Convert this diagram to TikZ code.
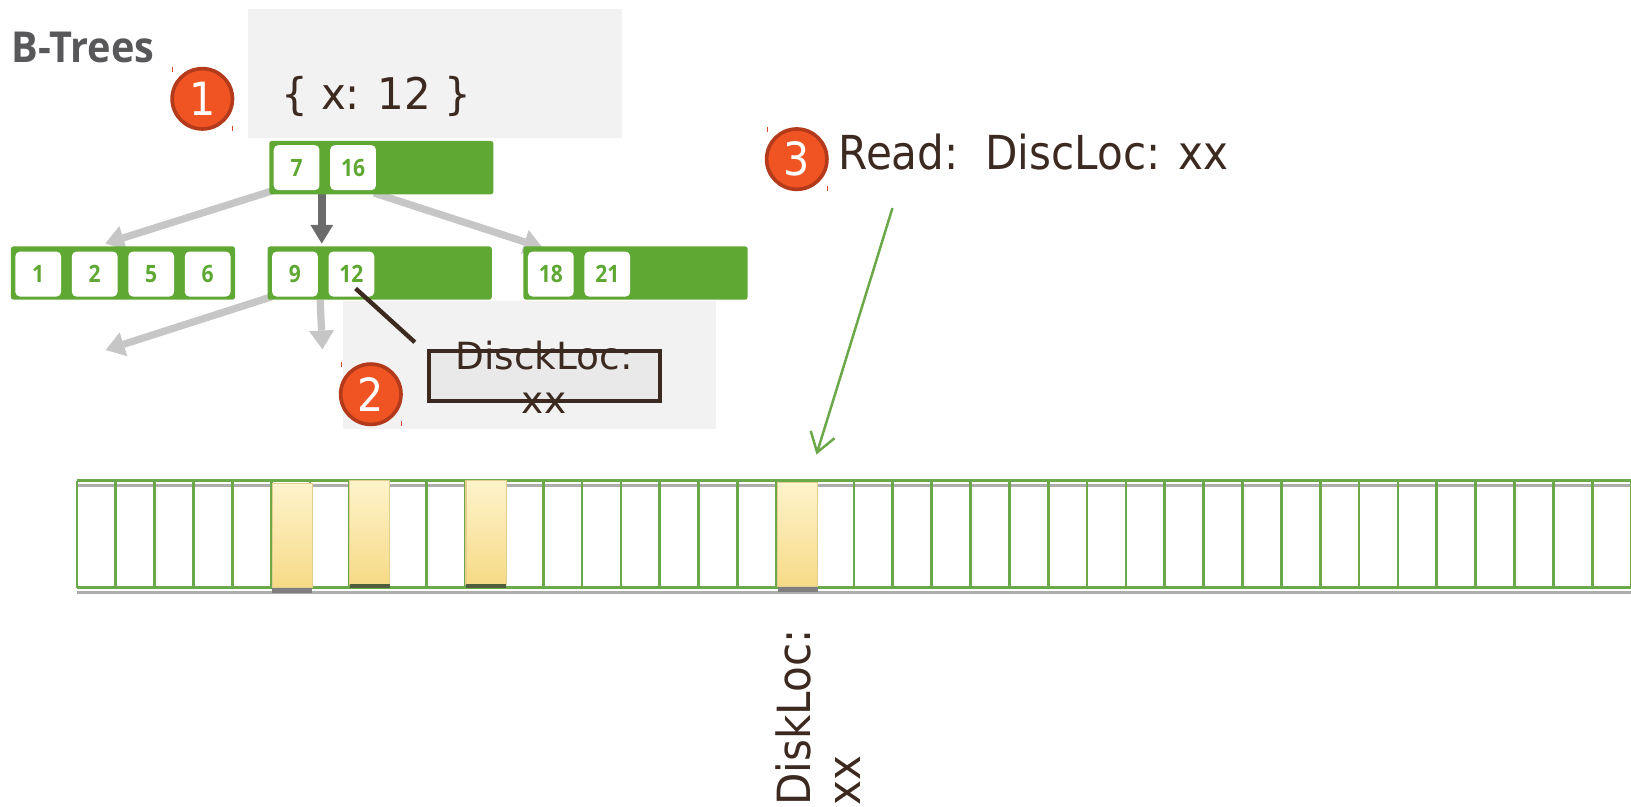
\documentclass[tikz,border=0pt]{standalone}
\usepackage{fontspec}
\usetikzlibrary{arrows.meta,calc}
\setmainfont{DejaVu Sans}
\newfontfamily\titlefam[FakeStretch=0.93]{Open Sans}
\newfontfamily\keyfam[FakeStretch=0.88]{Open Sans}
\newfontfamily\readfam[FakeStretch=0.90]{DejaVu Sans}
\newfontfamily\queryfam[FakeStretch=0.96]{DejaVu Sans}
\newfontfamily\vertfam[FakeStretch=0.92]{DejaVu Sans}
\newfontfamily\badgefam[FakeStretch=0.90]{DejaVu Sans}

\definecolor{bargreen}{HTML}{5FA833}
\definecolor{arrowlight}{HTML}{C6C6C6}
\definecolor{arrowdark}{HTML}{6B6B6B}
\definecolor{panelgray}{HTML}{F2F2F2}
\definecolor{inkbrown}{HTML}{3C2A21}
\definecolor{badgefill}{HTML}{F05423}
\definecolor{badgering}{HTML}{B43A1C}
\definecolor{tickred}{HTML}{D9452A}
\definecolor{diskgreen}{HTML}{6BA84A}
\definecolor{diskgray}{HTML}{ADADAD}
\definecolor{titlegray}{HTML}{58585A}
\definecolor{hcelltop}{HTML}{FEF3CB}
\definecolor{hcellbot}{HTML}{F6DA86}
\definecolor{hcelledge}{HTML}{E2CF8E}
\definecolor{footgray}{HTML}{7F7F7F}
\definecolor{footdark}{HTML}{4F5C3E}
\definecolor{dboxfill}{HTML}{E9E9E9}

\pgfdeclarelayer{bg}
\pgfsetlayers{bg,main}

\begin{document}
\begin{tikzpicture}[x=1pt,y=-1pt,
  bar/.style={fill=bargreen, rounded corners=2.5pt, minimum width=215.5pt,
    minimum height=51.3pt, inner sep=0pt},
  key/.style={fill=white, rounded corners=4.5pt, minimum width=44pt,
    minimum height=43.3pt, inner sep=0pt, text=bargreen,
    font=\keyfam\bfseries\fontsize{23}{23}\selectfont},
  panel/.style={fill=panelgray, inner sep=0pt},
  txt/.style={inner sep=0pt, text=inkbrown},
  badge/.style={circle, fill=badgefill, draw=badgering, line width=3.5pt,
    minimum size=58pt, inner sep=0pt, text=white,
    font=\badgefam\fontsize{44}{44}\selectfont},
  tick/.style={draw=tickred, line width=0.8pt},
  lightarrow/.style={draw=arrowlight, line width=7pt,
    -{Triangle[length=18pt,width=24pt,line width=0pt]}},
  darkarrow/.style={draw=arrowdark, line width=7.5pt,
    -{Triangle[length=18pt,width=22pt,line width=0pt]}},
  pointer/.style={draw=inkbrown, line width=4.2pt},
  readarrow/.style={draw=diskgreen, line width=2.4pt,
    -{Straight Barb[length=18pt,width=24pt]}},
  cellline/.style={draw=diskgreen, line width=2.6pt},
  shadeline/.style={draw=diskgray, line width=3pt},
  hcell/.style={top color=hcelltop, bottom color=hcellbot, draw=hcelledge, line width=1pt},
]
\useasboundingbox (0,0) rectangle (1568,775);

% title
\node[anchor=base west, inner sep=0pt, text=titlegray,
  font=\titlefam\bfseries\fontsize{41}{41}\selectfont] (title) at (11,60) {B-Trees};

% query panel and record panel
\begin{pgfonlayer}{bg}
  \node[panel, minimum width=359pt, minimum height=123.4pt] (qbox) at (418.1,70.7) {};
  \node[panel, minimum width=358.8pt, minimum height=123.5pt] (locbox) at (509.4,350.8) {};
\end{pgfonlayer}
\node[txt, anchor=base west, font=\queryfam\fontsize{42}{42}\selectfont] (qtext) at (270,105) {\{ x: 12 \}};

% root node
\node[bar] (root) at (366.6,161.2) {};
\node[key] (k7)  at ($(root.west)+(26.5,0)$) {7};
\node[key] (k16) at ($(k7)+(54.3,0)$) {16};

% second level
\node[bar] (lb) at (118.2,262.5) {};
\node[key] (k1) at ($(lb.west)+(26.5,1)$) {1};
\node[key] (k2) at ($(k1)+(54.3,0)$) {2};
\node[key] (k5) at ($(k2)+(54.3,0)$) {5};
\node[key] (k6) at ($(k5)+(54.3,0)$) {6};

\node[bar] (mb) at (365,262.5) {};
\node[key] (k9)  at ($(mb.west)+(26.5,1)$) {9};
\node[key] (k12) at ($(k9)+(54.3,0)$) {12};

\node[bar] (rb) at (611,262.5) {};
\node[key] (k18) at ($(rb.west)+(26.5,1)$) {18};
\node[key] (k21) at ($(k18)+(54.3,0)$) {21};

% child pointers
\coordinate (mbleft) at (101.6,336.5);
\coordinate (mbdown) at (310,335.8);
\begin{pgfonlayer}{bg}
  \draw[lightarrow] ($(root.south west)+(3,-3.5)$) -- ($(lb.north)+(-17,-2.5)$);
  \draw[lightarrow] ($(k16.south east)+(-2,2.5)$) -- ($(rb.north west)+(18.6,1.5)$);
  \draw[darkarrow] ($(k7.south east)+(2,0)$) -- ($(k7.south east |- mb.north)+(2,-2.5)$);
  \draw[lightarrow] ($(mb.south west)+(4,-3)$) -- (mbleft);
  \draw[lightarrow] ($(k9.south east |- mb.south)+(2,0)$) -- (mbdown);
\end{pgfonlayer}

% record location box
\node[draw=inkbrown, fill=dboxfill, line width=4.1pt, minimum width=221.9pt,
  minimum height=47.9pt, inner sep=0pt] (dbox) at (523.2,361.5) {};
\draw[pointer] ($(k12.south)+(4,-8)$) -- ($(dbox.north west)+(-11.4,-6.5)$);
\node[txt, anchor=base, align=center, font=\fontsize{36}{41.7}\selectfont] (dtext)
  at (523,397.4) {DisckLoc:\\xx};

% read step
\node[txt, anchor=base west, font=\readfam\fontsize{45}{45}\selectfont] (read)
  at (806,163.4) {Read:\ \ DiscLoc: xx};

% disk strip
\fill[white] (74,462) rectangle (1568,565);
\draw[shadeline] (74,466.5) -- (1568,466.5);
\draw[shadeline] (74,569.5) -- (1568,569.5);
\foreach \i in {0,...,40} {
  \draw[cellline] ({74+\i*37.35},462) -- ({74+\i*37.35},565);
}
\draw[cellline] (74,462) -- (1568,462);
\draw[cellline] (74,565) -- (1568,565);

% occupied blocks
\draw[hcell] (261.6,465) rectangle (300,565);
\fill[footgray] (261.6,565) rectangle (300,570);
\draw[hcell] (336,461.5) rectangle (374.5,561.5);
\fill[footdark] (336,561.5) rectangle (374.5,565.5);
\draw[hcell] (448,461.5) rectangle (486.5,561.5);
\fill[footdark] (448,561.5) rectangle (486.5,565.5);
\draw[hcell] (747.8,463.7) rectangle (786,564);
\fill[footgray] (747.8,564) rectangle (786,569);
\coordinate (c18) at (766.9,463.7);

% read pointer
\coordinate (rstart) at (858,200);
\draw[readarrow] (rstart) -- ($(c18)+(18,-26.7)$);

% disk location label
\node[txt, rotate=90, anchor=base west, align=left,
  font=\vertfam\fontsize{44}{47.4}\selectfont] (disklbl) at (826.8,774.7) {DiskLoc:\\xx};

% step badges
\node[badge] (b1) at (194.5,95) {1};
\node[badge] (b2) at (356.5,379) {2};
\node[badge] (b3) at (766,153) {3};
\foreach \b in {b1,b2,b3} {
  \draw[tick] ($(\b.center)+(-28.5,-31)$) -- ++(0,5);
  \draw[tick] ($(\b.center)+(29,26)$) -- ++(0,5);
}
\end{tikzpicture}
\end{document}
